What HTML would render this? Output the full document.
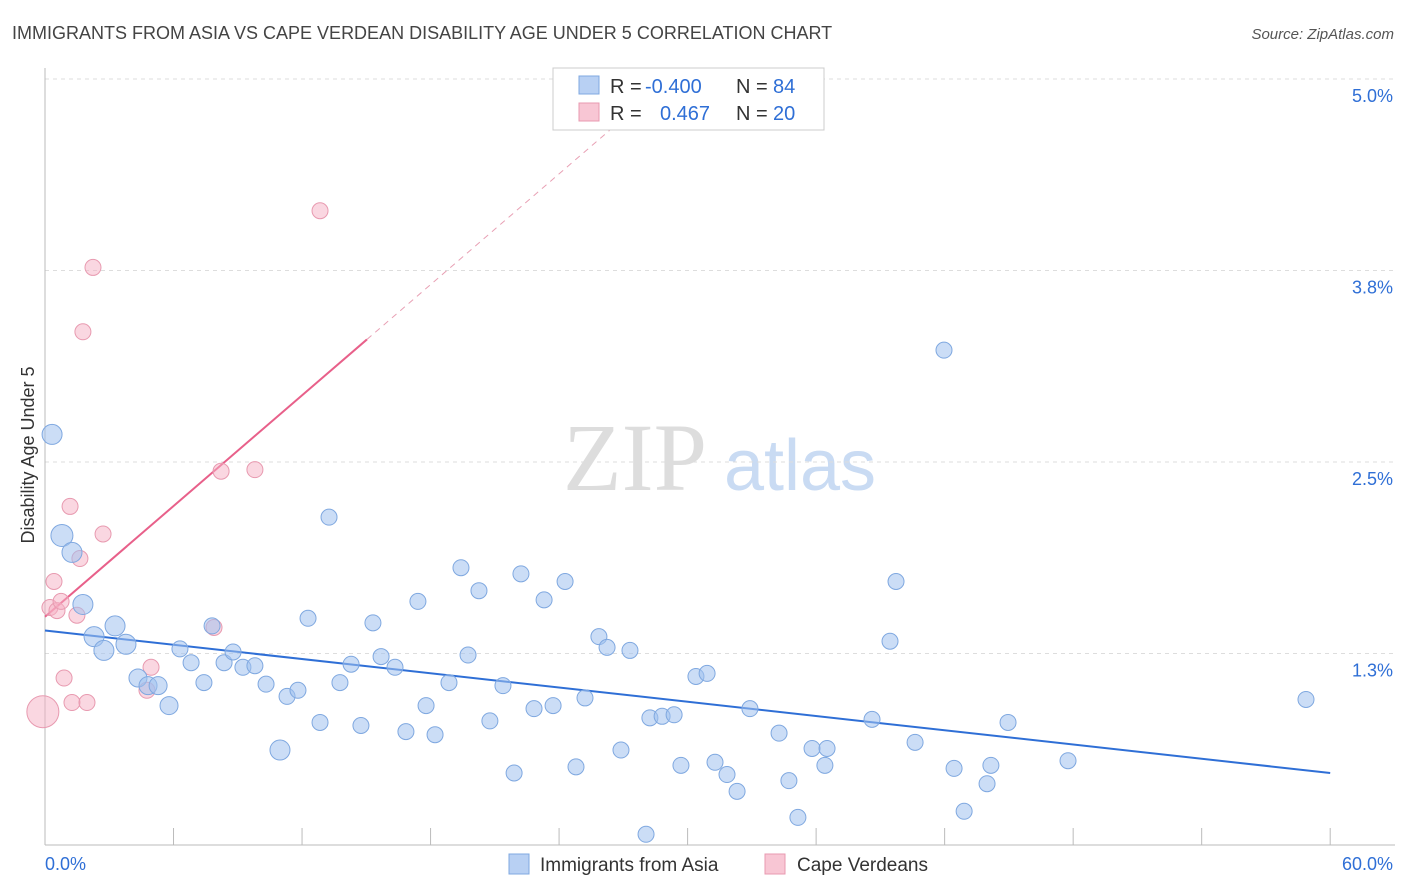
<!DOCTYPE html>
<html><head><meta charset="utf-8"><style>
body{margin:0;background:#fff;font-family:"Liberation Sans",sans-serif;}
svg{display:block}
</style></head><body>
<svg id="chart" width="1406" height="892">
<text x="12" y="39" font-size="18" fill="#444">IMMIGRANTS FROM ASIA VS CAPE VERDEAN DISABILITY AGE UNDER 5 CORRELATION CHART</text>
<text x="1394" y="39" font-size="15" fill="#555" text-anchor="end" font-style="italic">Source: ZipAtlas.com</text>
<text x="34" y="455" font-size="18" fill="#333" text-anchor="middle" transform="rotate(-90 34 455)">Disability Age Under 5</text>
<g id="watermark">
<text x="635" y="490" font-size="96" fill="#ddd" font-family="Liberation Serif,serif" text-anchor="middle">ZIP</text>
<text x="800" y="490" font-size="72" fill="#c9dbf3" text-anchor="middle">atlas</text>
</g>
<g id="grid"></g><g id="axes"></g><g id="trend"></g><g id="pts"></g>
<g>
<rect x="553" y="68" width="271" height="62" fill="#fff" stroke="#ccc"/>
<rect x="579" y="76" width="20" height="18" fill="#b8d0f3" stroke="#7fa8e0"/>
<rect x="579" y="103" width="20" height="18" fill="#f8c6d4" stroke="#e89ab0"/>
<text x="610" y="93" font-size="20" fill="#333">R =</text>
<text x="645" y="93" font-size="20" fill="#2f6fd6">-0.400</text>
<text x="736" y="93" font-size="20" fill="#333">N =</text>
<text x="773" y="93" font-size="20" fill="#2f6fd6">84</text>
<text x="610" y="120" font-size="20" fill="#333">R =</text>
<text x="660" y="120" font-size="20" fill="#2f6fd6">0.467</text>
<text x="736" y="120" font-size="20" fill="#333">N =</text>
<text x="773" y="120" font-size="20" fill="#2f6fd6">20</text>
</g>
<g>
<rect x="509" y="854" width="20" height="20" fill="#b8d0f3" stroke="#7fa8e0"/>
<text x="540" y="871" font-size="19" fill="#333">Immigrants from Asia</text>
<rect x="765" y="854" width="20" height="20" fill="#f8c6d4" stroke="#e89ab0"/>
<text x="797" y="871" font-size="19" fill="#333">Cape Verdeans</text>
</g>
</svg>
<script>
const yTicks=[1.25,2.5,3.75,5.0];
const yTickLabels=["1.3%","2.5%","3.8%","5.0%"];
const xTicks=[0,6,12,18,24,30,36,42,48,54,60];
const blueX=[0.33,0.79,1.26,1.77,2.29,2.75,3.27,3.78,4.34,4.81,5.28,5.79,6.30,6.82,7.42,7.80,8.36,8.78,9.24,9.80,10.32,10.97,11.30,11.81,12.28,12.84,13.26,13.77,14.29,14.75,15.31,15.69,16.34,16.85,17.41,17.79,18.21,18.86,19.42,19.75,20.26,20.77,21.38,21.90,22.22,22.83,23.30,23.72,24.28,24.79,25.21,25.86,26.24,26.89,27.31,28.06,28.24,28.81,29.37,29.69,30.39,30.91,31.28,31.84,32.31,32.91,34.27,34.73,35.15,35.81,36.41,36.51,38.61,39.45,39.73,40.62,41.97,42.44,42.91,43.98,44.16,44.96,47.76,58.87];
const blueY=[2.68,2.02,1.91,1.57,1.36,1.27,1.43,1.31,1.09,1.04,1.04,0.91,1.28,1.19,1.06,1.43,1.19,1.26,1.16,1.17,1.05,0.62,0.97,1.01,1.48,0.80,2.14,1.06,1.18,0.78,1.45,1.23,1.16,0.74,1.59,0.91,0.72,1.06,1.81,1.24,1.66,0.81,1.04,0.47,1.77,0.89,1.60,0.91,1.72,0.51,0.96,1.36,1.29,0.62,1.27,0.07,0.83,0.84,0.85,0.52,1.10,1.12,0.54,0.46,0.35,0.89,0.73,0.42,0.18,0.63,0.52,0.63,0.82,1.33,1.72,0.67,3.23,0.50,0.22,0.40,0.52,0.80,0.55,0.95];
const blueSize=[10,11,10,10,10,10,10,10,9,9,9,9,8,8,8,8,8,8,8,8,8,10];
const pinkX=[-0.1,0.23,0.42,0.56,0.75,0.89,1.17,1.26,1.49,1.63,1.77,1.96,2.24,2.71,4.76,4.95,7.89,8.22,9.80,12.84];
const pinkY=[0.87,1.55,1.72,1.53,1.59,1.09,2.21,0.93,1.50,1.87,3.35,0.93,3.77,2.03,1.01,1.16,1.42,2.44,2.45,4.14];
const pinkSize=[16];
const blueTrend=[[0,1.40],[60,0.47]];
const pinkTrend=[[0,1.49],[15.03,3.30]];
const pinkDash=[[15.03,3.30],[26.4,4.67]];
const X=v=>45+v*21.42, Y=v=>845-v*153.2;
const NS="http://www.w3.org/2000/svg";
function mk(t,a,p){const e=document.createElementNS(NS,t);for(const k in a)e.setAttribute(k,a[k]);p.appendChild(e);return e;}
const grid=document.getElementById('grid'),axes=document.getElementById('axes'),tr=document.getElementById('trend'),pts=document.getElementById('pts');
yTicks.forEach((v,i)=>{
 const l=mk('line',{x1:45,x2:1395,y1:Y(v),y2:Y(v),stroke:'#ddd','stroke-dasharray':'4 4'},grid);
 
 
 const t=mk('text',{x:1393,y:Y(v)+23,'font-size':18,fill:'#2f6fd6','text-anchor':'end'},axes);
 t.textContent=yTickLabels[i];
 
 
});
mk('line',{x1:45,x2:45,y1:68,y2:845,stroke:'#bbb'},axes);
mk('line',{x1:45,x2:1395,y1:845,y2:845,stroke:'#bbb'},axes);
xTicks.forEach(v=>{const l=mk('line',{x1:X(v),x2:X(v),y1:828,y2:845,stroke:'#bbb'},axes);
 
 });
let t=mk('text',{x:45,y:870,'font-size':18,fill:'#2f6fd6'},axes);t.textContent='0.0%';


t=mk('text',{x:1393,y:870,'font-size':18,fill:'#2f6fd6','text-anchor':'end'},axes);t.textContent='60.0%';


pinkX.forEach((x,i)=>{const c=mk('circle',{cx:X(x),cy:Y(pinkY[i]),r:pinkSize[i]||8,fill:'rgba(246,176,196,0.5)',stroke:'#e89ab0','stroke-width':1},pts);
 
 });
blueX.forEach((x,i)=>{const c=mk('circle',{cx:X(x),cy:Y(blueY[i]),r:blueSize[i]||8,fill:'rgba(160,193,238,0.55)',stroke:'#7fa8e0','stroke-width':1},pts);
 
 });
let l=mk('line',{x1:X(blueTrend[0][0]),y1:Y(blueTrend[0][1]),x2:X(blueTrend[1][0]),y2:Y(blueTrend[1][1]),stroke:'#2f6fd6','stroke-width':2},tr);


l=mk('line',{x1:X(pinkTrend[0][0]),y1:Y(pinkTrend[0][1]),x2:X(pinkTrend[1][0]),y2:Y(pinkTrend[1][1]),stroke:'#e8608a','stroke-width':2},tr);


l=mk('line',{x1:X(pinkDash[0][0]),y1:Y(pinkDash[0][1]),x2:X(pinkDash[1][0]),y2:Y(pinkDash[1][1]),stroke:'#e8a0b4','stroke-width':1,'stroke-dasharray':'6 5'},tr);


</script>
</body></html>
